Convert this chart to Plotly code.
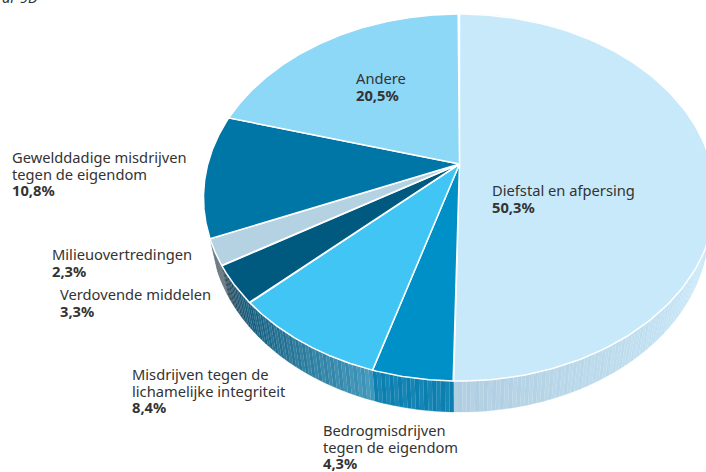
import numpy as np
import plotly.graph_objects as go

categories = ["Diefstal en afpersing", "Bedrogmisdrijven tegen de eigendom",
              "Misdrijven tegen de lichamelijke integriteit", "Verdovende middelen",
              "Milieuovertredingen", "Gewelddadige misdrijven tegen de eigendom", "Andere"]
values = [50.3, 4.3, 8.4, 3.3, 2.3, 10.8, 20.5]
value_labels = ["50,3%", "4,3%", "8,4%", "3,3%", "2,3%", "10,8%", "20,5%"]
top_colors = ["#C7E9FA", "#0090C8", "#40C5F5", "#005A80", "#B4D2E2", "#0076A6", "#8DD7F7"]
# side shades along each slice, clockwise
side_shades = [["#AFC6D2", "#C7E7F8", "#C7E7F8", "#AFCDE0"], ["#0A7FB0", "#0A7FB0"], ["#3E97BC", "#155F80"],
               ["#145F82", "#2A4656"], ["#566670", "#566670"], ["#0076A6", "#0076A6"], ["#8DD7F7", "#8DD7F7"]]
label_lines = [["Diefstal en afpersing"], ["Bedrogmisdrijven", "tegen de eigendom"],
               ["Misdrijven tegen de", "lichamelijke integriteit"], ["Verdovende middelen"],
               ["Milieuovertredingen"], ["Gewelddadige misdrijven", "tegen de eigendom"], ["Andere"]]
label_pos = [(491, 190), (322, 430), (131, 374), (59, 294), (51, 254), (11, 157), (355, 78)]
clipped_heading = "ar 9D"

FONT = "Noto Sans"
SIZE = 14.7
LINE = 16.5
A, C = 0.1826, 177.4
HUB = (459.5, 164)
K_TOP, K_BOT, DROP = 251.7, 244.6, 31


def project(theta, k, hub_y):
    u, v = np.sin(theta), np.cos(theta)
    d = 1 + A * v
    return HUB[0] + k * u / d, hub_y - C * v / d


def hex_rgb(h):
    return np.array([int(h[i:i + 2], 16) for i in (1, 3, 5)], float)


def shade(stops, t, light):
    pos = t * (len(stops) - 1)
    i = min(int(pos), len(stops) - 2)
    f = pos - i
    c = hex_rgb(stops[i]) * (1 - f) + hex_rgb(stops[i + 1]) * f
    c = c + (255 - c) * light
    return "rgb(%d,%d,%d)" % tuple(c)


fig = go.Figure()
edges = np.cumsum([0] + values) / 100 * 2 * np.pi

# visible sides, drawn first
for i in range(5):
    a0, a1 = edges[i], edges[i + 1]
    n = max(2, int(np.degrees(a1 - a0) / 0.8))
    steps = np.linspace(a0, a1, n + 1)
    for j in range(n):
        col = shade(side_shades[i], (j + .5) / n, 0.06 if j % 2 else 0.0)
        th = np.linspace(steps[j], steps[j + 1], 3)
        xt, yt = project(th, K_TOP, HUB[1])
        xb, yb = project(th[::-1], K_BOT, HUB[1] + DROP)
        fig.add_trace(go.Scatter(x=np.r_[xt, xb], y=np.r_[yt, yb], mode="lines", fill="toself",
                                 fillcolor=col, line=dict(color=col, width=0.3),
                                 hoverinfo="skip", showlegend=False))

# top faces
for i, name in enumerate(categories):
    th = np.linspace(edges[i], edges[i + 1], 160)
    xt, yt = project(th, K_TOP, HUB[1])
    fig.add_trace(go.Scatter(x=np.r_[HUB[0], xt, HUB[0]], y=np.r_[HUB[1], yt, HUB[1]], mode="lines",
                             fill="toself", fillcolor=top_colors[i], name=name,
                             line=dict(color="white", width=1.5), hoverinfo="name", showlegend=False))

# labels
ann = []
for i, lines in enumerate(label_lines):
    x, y = label_pos[i]
    for j, text in enumerate(lines):
        ann.append(dict(x=x, y=y + j * LINE, text=text))
    ann.append(dict(x=x, y=y + len(lines) * LINE, text="<b>%s</b>" % value_labels[i]))
for a in ann:
    a.update(xref="x", yref="y")
# heading cut off by the top of the picture: paper reference so it is not dropped as out of range
ann.append(dict(x=1 / 706, y=1 + 2.5 / 472, xref="paper", yref="paper", text="<i>%s</i>" % clipped_heading))
for a in ann:
    a.update(xanchor="left", yanchor="middle", showarrow=False, borderpad=0,
             font=dict(color="#333333", size=SIZE, family=FONT))

fig.update_layout(width=706, height=472, margin=dict(l=0, r=0, t=0, b=0), paper_bgcolor="white",
                  plot_bgcolor="white", annotations=ann,
                  xaxis=dict(range=[0, 706], visible=False, fixedrange=True),
                  yaxis=dict(range=[472, 0], visible=False, fixedrange=True))
fig.write_html("out.html", config=dict(displayModeBar=False),
               post_script="document.body.style.margin='0';document.body.style.overflow='hidden';")
